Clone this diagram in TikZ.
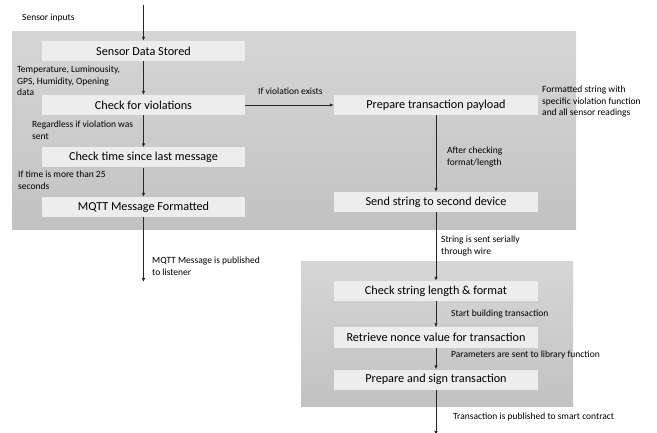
\documentclass[tikz,border=0pt]{standalone}
\usepackage{fontspec}
\setmainfont{Carlito}
\usetikzlibrary{arrows.meta}
\definecolor{boxgray}{HTML}{EDEDED}
\definecolor{paneltop}{HTML}{D6D6D6}
\definecolor{panelbot}{HTML}{C2C2C2}
\begin{document}
\begin{tikzpicture}[x=1pt,y=-1pt]
\tikzset{process/.style = {fill=boxgray,minimum height=20pt,inner sep=0pt,font=\fontsize{12.2}{14}\selectfont}}
\tikzset{edge/.style = {-{Latex[length=4pt,width=3.5pt]},draw=black!85,line width=0.8pt}}
\tikzset{note/.style = {anchor=north west,align=left,inner sep=0pt,font=\fontsize{9.5}{11.5}\selectfont}}
\useasboundingbox (0,0) rectangle (657,433);
% device panels
\shade[top color=paneltop,bottom color=panelbot] (12,32) rectangle (576,230);
\shade[top color=paneltop,bottom color=panelbot] (301,262) rectangle (573,406);
\node[process,minimum width=203pt] (stored) at (143.5,51) {Sensor Data Stored};
\node[process,minimum width=203pt] (viol) at (143.5,105) {Check for violations};
\node[process,minimum width=203pt] (time) at (143.5,157.5) {Check time since last message};
\node[process,minimum width=203pt] (mqtt) at (143.5,207) {MQTT Message Formatted};
\node[process,minimum width=204pt] (payload) at (436,105) {Prepare transaction payload};
\node[process,minimum width=204pt] (send) at (436,202) {Send string to second device};
\node[process,minimum width=204pt] (check) at (436,291) {Check string length \& format};
\node[process,minimum width=204pt] (nonce) at (436,337.5) {Retrieve nonce value for transaction};
\node[process,minimum width=204pt] (sign) at (436,379.5) {Prepare and sign transaction};
\coordinate (in) at (143.5,5);
\coordinate (out) at (143.5,282);
\coordinate (end) at (436,435);
\draw[edge] (in) -- (stored);
\draw[edge] (stored) -- (viol);
\draw[edge] (viol) -- (time);
\draw[edge] (time) -- (mqtt);
\draw[edge] (mqtt) -- (out);
\draw[edge] (viol) -- (payload);
\draw[edge] (payload) -- (send);
\draw[edge] (send) -- (check);
\draw[edge] (check) -- (nonce);
\draw[edge] (nonce) -- (sign);
\draw[edge] (sign) -- (end);
\node[note] (tin) at (22,14) {Sensor inputs};
\node[note] (tdata) at (17,66) {Temperature, Luminousity,\\GPS, Humidity, Opening\\data};
\node[note] (texists) at (258,88) {If violation exists};
\node[note] (tregard) at (32,121) {Regardless if violation was\\sent};
\node[note] (ttime) at (18,171) {If time is more than 25\\seconds};
\node[note] (tformat) at (542,86) {Formatted string with\\specific violation function\\and all sensor readings};
\node[note] (tafter) at (447,147) {After checking\\format/length};
\node[note] (tpub) at (152,257) {MQTT Message is published\\to listener};
\node[note] (tserial) at (441,236) {String is sent serially\\through wire};
\node[note] (tbuild) at (451,310) {Start building transaction};
\node[note] (tparam) at (451,351) {Parameters are sent to library function};
\node[note] (tcontract) at (453,413) {Transaction is published to smart contract};
\end{tikzpicture}
\end{document}
